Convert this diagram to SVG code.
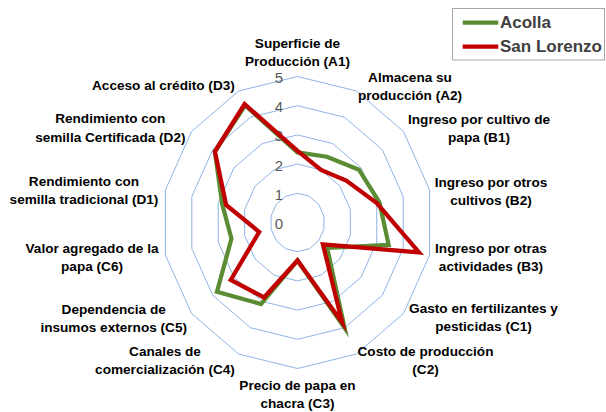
<svg xmlns="http://www.w3.org/2000/svg" width="606" height="412" viewBox="0 0 606 412">
<style>
.grid{fill:none;stroke:#8EB4E3;stroke-width:1}
.lbl{font-family:'Liberation Sans',Arial,sans-serif;font-weight:bold;font-size:13.6px;fill:#000;text-anchor:middle}
.tick{font-family:'Liberation Sans',Arial,sans-serif;font-size:15px;fill:#595959;text-anchor:end}
.ser{fill:none;stroke-width:4.25;stroke-linejoin:miter;stroke-miterlimit:10}
.leg{font-family:'Liberation Sans',Arial,sans-serif;font-weight:bold;font-size:17px;fill:#404040}
</style>
<rect width="606" height="412" fill="#fff"/>
<g id="grid">
<polygon class="grid" points="297.5,193.3 309.26,196.19 318.69,204.29 323.92,216 323.92,229 318.69,240.71 309.26,248.81 297.5,251.7 285.74,248.81 276.31,240.71 271.08,229 271.08,216 276.31,204.29 285.74,196.19"/>
<polygon class="grid" points="297.5,164.1 321.02,169.88 339.87,186.09 350.34,209.51 350.34,235.49 339.87,258.91 321.02,275.12 297.5,280.9 273.98,275.12 255.13,258.91 244.66,235.49 244.66,209.51 255.13,186.09 273.98,169.88"/>
<polygon class="grid" points="297.5,134.9 332.78,143.57 361.06,167.88 376.76,203.01 376.76,241.99 361.06,277.12 332.78,301.43 297.5,310.1 262.22,301.43 233.94,277.12 218.24,241.99 218.24,203.01 233.94,167.88 262.22,143.57"/>
<polygon class="grid" points="297.5,105.7 344.54,117.26 382.25,149.68 403.18,196.51 403.18,248.49 382.25,295.32 344.54,327.74 297.5,339.3 250.46,327.74 212.75,295.32 191.82,248.49 191.82,196.51 212.75,149.68 250.46,117.26"/>
<polygon class="grid" points="297.5,76.5 356.3,90.96 403.44,131.47 429.6,190.02 429.6,254.99 403.44,313.53 356.3,354.05 297.5,368.5 238.7,354.05 191.57,313.53 165.4,254.99 165.4,190.02 191.57,131.47 238.7,90.96"/>
</g>
<g id="ticks">
<text class="tick" x="283" y="229">0</text>
<text class="tick" x="283" y="199.8">1</text>
<text class="tick" x="283" y="170.6">2</text>
<text class="tick" x="283" y="141.4">3</text>
<text class="tick" x="283" y="112.2">4</text>
<text class="tick" x="283" y="83">5</text>
</g>
<g id="series">
<polygon id="acolla" class="ser" stroke="#5B8C34" points="297.5,152.42 326.9,156.73 358.94,169.7 379.4,202.36 388.65,244.91 327.16,247.99 344.54,327.74 297.5,260.46 261.05,304.06 216.99,291.68 231.45,238.74 222.2,203.98 214.87,151.5 245.17,105.42"/>
<polygon id="sanlorenzo" class="ser" stroke="#C00000" points="297.5,150.96 321.02,169.88 346.23,180.63 376.76,203.01 419.03,252.39 322.92,244.35 342.18,322.47 297.5,260.46 263.99,297.48 230.76,279.85 259.19,231.92 226.17,204.96 214.87,151.5 244.58,104.11"/>
</g>
<g id="labels">
<text class="lbl" x="297.5" y="47.5">Superficie de</text>
<text class="lbl" x="297.5" y="65.5">Producción (A1)</text>
<text class="lbl" x="410" y="82">Almacena su</text>
<text class="lbl" x="410" y="100">producción (A2)</text>
<text class="lbl" x="479" y="123.5">Ingreso por cultivo de</text>
<text class="lbl" x="479" y="141.5">papa (B1)</text>
<text class="lbl" x="491" y="187">Ingreso por otros</text>
<text class="lbl" x="491" y="205">cultivos (B2)</text>
<text class="lbl" x="491" y="252.5">Ingreso por otras</text>
<text class="lbl" x="491" y="270.5">actividades (B3)</text>
<text class="lbl" x="483.5" y="313">Gasto en fertilizantes y</text>
<text class="lbl" x="483.5" y="331">pesticidas (C1)</text>
<text class="lbl" x="425.5" y="355.5">Costo de producción</text>
<text class="lbl" x="425.5" y="373.5">(C2)</text>
<text class="lbl" x="297.5" y="390">Precio de papa en</text>
<text class="lbl" x="297.5" y="408">chacra (C3)</text>
<text class="lbl" x="165" y="356">Canales de</text>
<text class="lbl" x="165" y="374">comercialización (C4)</text>
<text class="lbl" x="113.7" y="314">Dependencia de</text>
<text class="lbl" x="113.7" y="332">insumos externos (C5)</text>
<text class="lbl" x="92" y="252.5">Valor agregado de la</text>
<text class="lbl" x="92" y="270.5">papa (C6)</text>
<text class="lbl" x="84" y="186">Rendimiento con</text>
<text class="lbl" x="84" y="204">semilla tradicional (D1)</text>
<text class="lbl" x="110.3" y="123.3">Rendimiento con</text>
<text class="lbl" x="110.3" y="141.5">semilla Certificada (D2)</text>
<text class="lbl" x="163.4" y="90">Acceso al crédito (D3)</text>
</g>
<g id="legend">
<rect x="452.5" y="8.5" width="152" height="51.5" fill="#fff" stroke="#A6A6A6" stroke-width="1"/>
<line x1="462.7" y1="22.7" x2="498.3" y2="22.7" stroke="#5B8C34" stroke-width="4.25"/>
<text class="leg" x="500" y="27.5">Acolla</text>
<line x1="462.7" y1="46.7" x2="498.3" y2="46.7" stroke="#C00000" stroke-width="4.25"/>
<text class="leg" x="500" y="52.3">San Lorenzo</text>
</g>
</svg>
